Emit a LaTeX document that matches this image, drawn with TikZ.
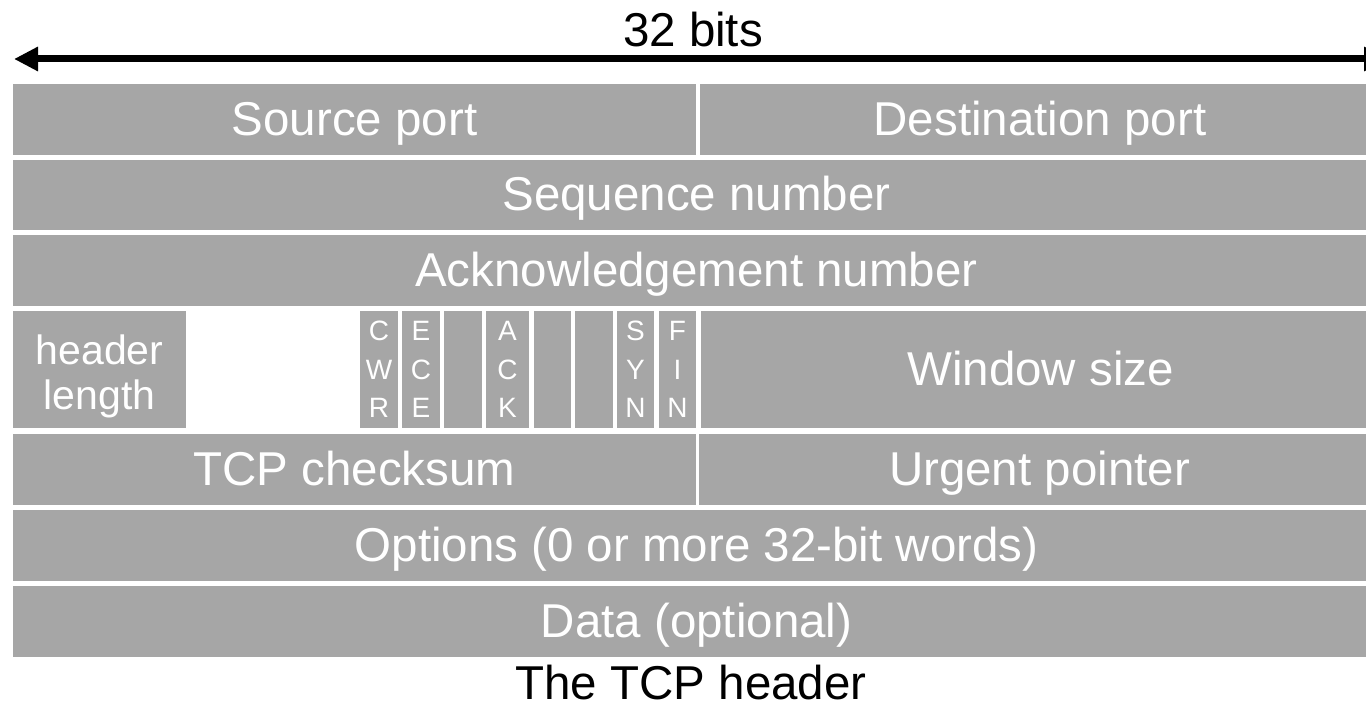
\documentclass[tikz,border=0pt]{standalone}
\usepackage{fontspec}
\setmainfont{Liberation Sans}
\usetikzlibrary{arrows.meta}
\definecolor{fieldgray}{RGB}{166,166,166}

\begin{document}
\begin{tikzpicture}[x=1pt, y=-1pt,
    field/.style={fill=fieldgray, text=white, inner sep=0pt, minimum height=71pt,
      text height=42pt, text depth=10pt, font=\fontsize{47.5}{57}\selectfont},
    flagbox/.style={fill=fieldgray, text=white, inner sep=0pt, minimum width=38pt,
      minimum height=117pt, align=center, font=\fontsize{28}{38.3}\selectfont},
    caption/.style={inner sep=0pt, font=\fontsize{47.5}{57}\selectfont}]
    \useasboundingbox (0,0) rectangle (1366,708);
    \clip (0,0) rectangle (1366,708);
    % width arrow
    \coordinate (wl) at (14,59);
    \coordinate (wr) at (1388,59);
    \draw[line width=7pt, {Triangle[length=24pt,width=23pt]}-{Triangle[length=24pt,width=23pt]}] (wl) -- (wr);
    \node[caption] (bits) at (693,30) {32 bits};
    % rows of the header
    \node[field, minimum width=683pt] (src) at (354.5,119.5) {Source port};
    \node[field, minimum width=680pt] (dst) at (1040,119.5) {Destination port};
    \node[field, minimum width=1367pt, minimum height=70pt] (seq) at (696.5,195) {Sequence number};
    \node[field, minimum width=1367pt] (ack) at (696.5,270.5) {Acknowledgement number};
    \node[field, minimum width=173pt, minimum height=117pt, align=center,
      text height=88pt, text depth=8pt, font=\fontsize{41}{45}\selectfont] (hlen) at (99.5,369.5) {header\\length};
    \node[flagbox] (cwr) at (379,369.5) {C\\W\\R};
    \node[flagbox] (ece) at (421,369.5) {E\\C\\E};
    \node[flagbox] (urgf) at (463,369.5) {};
    \node[flagbox, minimum width=43pt] (ackf) at (507.5,369.5) {A\\C\\K};
    \node[flagbox, minimum width=37pt] (pshf) at (552.5,369.5) {};
    \node[flagbox] (rstf) at (594,369.5) {};
    \node[flagbox, minimum width=37pt] (syn) at (635.5,369.5) {S\\Y\\N};
    \node[flagbox, minimum width=37pt] (fin) at (677.5,369.5) {F\\I\\N};
    \node[field, minimum width=679pt, minimum height=117pt] (win) at (1040.5,369.5) {Window size};
    \node[field, minimum width=683pt] (cks) at (354.5,469.5) {TCP checksum};
    \node[field, minimum width=681pt] (urg) at (1039.5,469.5) {Urgent pointer};
    \node[field, minimum width=1367pt] (opt) at (696.5,545.5) {Options (0 or more 32-bit words)};
    \node[field, minimum width=1367pt] (data) at (696.5,621.5) {Data (optional)};
    \node[caption] (title) at (691,683) {The TCP header};
\end{tikzpicture}
\end{document}
